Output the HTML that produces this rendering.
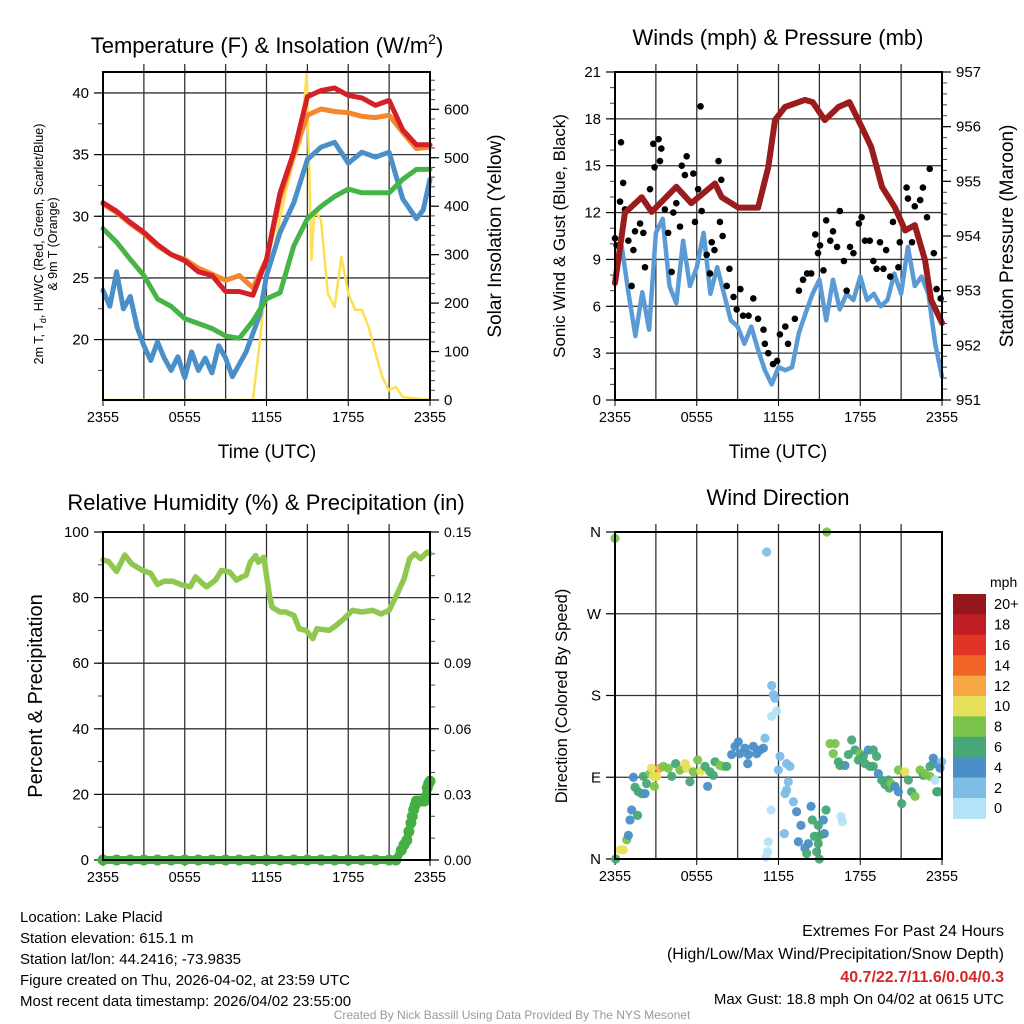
<!DOCTYPE html>
<html><head><meta charset="utf-8"><style>
html,body{margin:0;padding:0;background:#fff;}
svg{display:block;font-family:"Liberation Sans",sans-serif;}
</style></head><body>
<svg id="c" width="1024" height="1024" viewBox="0 0 1024 1024" xmlns="http://www.w3.org/2000/svg">
<rect width="1024" height="1024" fill="#fff"/>
<g id="p1"></g>
<g id="p2"></g>
<g id="p3"></g>
<g id="p4"></g>
<g id="cb"></g>
<g font-size="22" text-anchor="middle" fill="#000">
<text x="267" y="53">Temperature (F) &amp; Insolation (W/m<tspan font-size="14" dy="-9">2</tspan><tspan dy="9">)</tspan></text>
<text x="778" y="45">Winds (mph) &amp; Pressure (mb)</text>
<text x="266" y="510">Relative Humidity (%) &amp; Precipitation (in)</text>
<text x="778" y="505">Wind Direction</text>
</g>
<g font-size="19" text-anchor="middle">
<text x="267" y="458">Time (UTC)</text>
<text x="778" y="458">Time (UTC)</text>
<text transform="translate(43,244) rotate(-90)" font-size="12.5">2m T, T<tspan font-size="9" dy="3">d</tspan><tspan dy="-3">, HI/WC (Red, Green, Scarlet/Blue)</tspan></text>
<text transform="translate(57,244) rotate(-90)" font-size="12.5">&amp; 9m T (Orange)</text>
<text transform="translate(501,236) rotate(-90)">Solar Insolation (Yellow)</text>
<text transform="translate(565,236) rotate(-90)" font-size="17">Sonic Wind &amp; Gust (Blue, Black)</text>
<text transform="translate(1013,236) rotate(-90)">Station Pressure (Maroon)</text>
<text transform="translate(42,696) rotate(-90)" font-size="20">Percent &amp; Precipitation</text>
<text transform="translate(567,696) rotate(-90)" font-size="16.5">Direction (Colored By Speed)</text>
</g>
<g font-size="15" fill="#000">
<text x="20" y="922">Location: Lake Placid</text>
<text x="20" y="943">Station elevation: 615.1 m</text>
<text x="20" y="964">Station lat/lon: 44.2416; -73.9835</text>
<text x="20" y="985">Figure created on Thu, 2026-04-02, at 23:59 UTC</text>
<text x="20" y="1006">Most recent data timestamp: 2026/04/02 23:55:00</text>
</g>
<g font-size="16" text-anchor="end">
<text x="1004" y="936">Extremes For Past 24 Hours</text>
<text x="1004" y="959">(High/Low/Max Wind/Precipitation/Snow Depth)</text>
<text x="1004" y="982" fill="#d62728" font-weight="bold">40.7/22.7/11.6/0.04/0.3</text>
<text x="1004" y="1004" font-size="15">Max Gust: 18.8 mph On 04/02 at 0615 UTC</text>
</g>
<text x="512" y="1019" font-size="12" fill="#999" text-anchor="middle">Created By Nick Bassill Using Data Provided By The NYS Mesonet</text>
</svg>
<script>
// ---- Panel 1 data ----
const tempHours=[0,1,2,3,4,5,6,7,8,9,10,11,12,13,14,15,16,17,18,19,20,21,22,23,24];
const airTemp=[31.1,30.4,29.5,28.7,27.7,26.9,26.4,25.5,25.2,23.9,23.9,23.6,26.5,31.9,35.2,39.7,40.2,40.4,39.8,39.6,39.0,39.4,37.0,35.8,35.8];
const temp9m=[31.0,30.3,29.4,28.6,27.6,26.9,26.5,25.8,25.3,24.8,25.2,24.2,26.5,31.5,35.0,38.2,38.7,38.5,38.4,38.1,38.0,38.2,36.8,35.5,35.6];
const dewPoint=[29.0,27.9,26.5,25.2,23.3,22.7,21.7,21.3,20.9,20.3,20.1,21.5,23.3,23.8,27.6,29.8,30.8,31.6,32.2,31.9,31.9,31.9,33.0,33.8,33.8];
const wcHours=[0,0.5,1,1.5,2,2.5,3,3.5,4,4.5,5,5.5,6,6.5,7,7.5,8,8.5,9,9.5,10,10.5,11,11.5,12,13,14,15,16,17,18,19,20,21,22,23,23.5,24];
const windChill=[24.0,22.7,25.5,22.5,23.5,21.0,19.5,18.3,19.8,18.5,17.5,18.6,16.9,19.0,17.5,18.5,17.3,19.5,18.5,17.0,18.0,19.0,20.5,22.0,25.2,28.7,31.1,34.6,35.6,36.0,34.3,35.2,34.8,35.2,31.4,29.8,30.5,33.0];
const solarHours=[0,11,11.5,12,12.5,13,13.5,14,14.5,14.95,15.3,15.5,16,16.5,17,17.5,18,18.5,19,19.5,20,20.5,21,21.5,22,24];
const solar=[0,0,118,254,303,377,439,495,530,674,289,392,371,220,192,295,220,186,186,150,97,47,20,27,6,0];
// ---- Panel 2 data ----
const presHours=[0,0.73,1.96,2.69,4.5,5.6,7.34,7.83,9.05,10.5,11.25,11.74,12.48,13.94,14.5,15.4,16.4,17.2,18.1,18.8,19.6,20.55,21.3,22.0,22.75,23.2,24];
const pressure=[953.14,954.42,954.71,954.44,954.9,954.6,954.96,954.71,954.52,954.52,955.26,956.12,956.36,956.49,956.45,956.12,956.36,956.45,956.0,955.63,954.9,954.52,954.1,954.2,953.56,952.83,952.41];
const sonicHours=[0,0.5,1,1.5,2,2.5,3,3.5,4,4.5,5,5.5,6,6.5,7,7.5,8,8.5,9,9.5,10,10.5,11,11.5,12,12.5,13,13.5,14,14.5,15,15.5,16,16.5,17,17.5,18,18.5,19,19.5,20,20.5,21,21.5,22,22.5,23,23.5,24];
const sonic=[7.9,9.8,6.8,4.1,6.9,4.5,10.7,11.6,7.3,6.2,10.2,7.3,8.5,10.7,6.8,8.5,6.8,5.1,4.7,3.6,4.7,3.2,1.9,1.0,2.1,1.9,2.1,4.3,5.6,6.8,7.7,5.1,7.7,5.8,6.8,6.4,7.9,6.4,6.8,6.0,6.4,8.1,6.8,9.8,7.3,7.9,6.8,3.6,1.5];
const gustHours=[0,0.12,0.37,0.44,0.6,0.73,0.98,1.22,1.35,1.47,1.84,2.08,2.2,2.57,2.81,2.9,3.2,3.3,3.4,3.66,3.9,4.16,4.28,4.5,4.77,4.9,5.13,5.26,5.75,5.87,6.1,6.28,6.36,6.73,6.97,7.1,7.3,7.6,7.7,7.8,7.9,8.2,8.4,8.7,8.93,9.2,9.4,9.8,10.15,10.5,10.9,11.0,11.25,11.6,11.9,12.1,12.5,12.7,13.2,13.5,13.8,14.1,14.4,14.7,14.9,15.05,15.3,15.5,15.8,16.0,16.3,16.5,16.8,17.0,17.25,17.5,17.9,18.1,18.35,18.7,18.96,19.2,19.45,19.7,19.9,20.2,20.4,20.8,20.9,21.4,21.5,21.8,22.0,22.4,22.6,22.9,23.1,23.4,23.6,23.9];
const gusts=[10.35,9.9,12.7,16.5,13.9,12.2,10.2,7.3,9.6,10.8,11.3,10.7,8.5,13.5,16.4,14.9,16.7,15.3,16.1,12.2,10.7,8.2,12.0,12.6,11.1,15.0,14.4,15.6,14.5,11.4,13.5,18.8,12.1,9.3,8.1,10.1,9.6,15.3,11.4,14.1,10.5,7.3,8.4,6.6,5.8,7.1,5.4,5.4,6.5,5.2,4.5,3.6,3.0,2.3,2.5,4.2,4.7,3.6,5.2,7.0,7.7,8.1,8.1,10.6,9.4,9.9,8.3,11.5,10.2,10.8,9.8,12.1,8.9,7.0,9.8,9.4,11.3,11.7,10.2,10.2,8.9,8.4,10.1,8.4,9.6,7.9,11.4,8.5,10.1,13.6,12.9,10.1,12.4,12.8,13.6,11.7,14.8,9.4,7.1,6.5];
// ---- Panel 3 data ----
const rhHours=[0,0.4,1.0,1.6,2.1,2.9,3.5,4.0,4.5,5.1,5.8,6.4,6.8,7.3,7.6,8.25,8.7,9.3,9.8,10.2,10.5,10.8,11.2,11.4,11.8,12.2,12.4,13.0,13.4,14.0,14.4,14.9,15.4,15.7,16.6,17.1,17.7,18.3,19.0,19.8,20.4,21.0,21.6,22.1,22.5,22.9,23.3,23.8,24];
const relHum=[91.5,91,88,93,90.3,88.3,87.4,84,85,85,83.8,83.3,86.3,84.3,83.3,85.3,88.3,87.8,85.3,86.3,86.8,90.8,92.8,90.8,92.3,81.2,77.1,75.6,75.6,74.6,70.5,70.0,67.5,70.5,70.0,71.5,73.6,76.1,75.6,76.1,75.0,76.1,81.2,85.8,91.9,93.4,91.9,93.9,93.4];
const precipHours=[0,1,2,3,4,5,6,7,8,9,10,11,12,13,14,15,16,17,18,19,20,21,21.5,21.9,22.1,22.3,22.45,22.6,22.7,22.8,22.9,23.0,23.2,23.4,23.6,23.8,23.9,24];
const precip=[0,0,0,0,0,0,0,0,0,0,0,0,0,0,0,0,0,0,0,0,0,0,0,0.0045,0.007,0.009,0.013,0.017,0.02,0.023,0.025,0.027,0.027,0.027,0.027,0.033,0.035,0.036];
// ---- Panel 4 data ----
const dirHours=[0,0.05,0.37,0.61,0.86,0.98,1.10,1.22,1.66,1.35,1.47,1.71,1.96,2.20,2.08,2.32,2.57,2.81,2.89,2.69,3.06,3.30,3.55,3.91,4.16,4.45,4.77,5.14,5.26,5.50,5.75,6.07,6.31,6.61,6.80,6.97,7.22,7.34,7.71,7.95,8.20,8.56,8.81,9.05,9.17,9.54,9.79,10.15,10.40,10.64,10.89,9.74,11.01,11.13,11.50,11.74,11.87,11.62,11.50,12.11,11.99,12.60,12.84,12.72,12.60,13.09,13.33,12.48,12.43,11.45,11.25,11.20,11.08,13.46,13.94,14.19,14.39,14.48,14.63,14.92,14.80,14.07,13.65,15.29,15.36,15.05,14.92,15.0,15.54,16.15,15.78,16.02,16.39,16.88,16.51,17.13,17.37,17.61,17.98,18.23,18.59,18.96,19.20,17.86,18.35,18.72,18.96,19.33,19.57,19.82,20.13,20.06,20.26,20.55,20.80,21.04,20.80,21.28,21.53,21.77,22.02,22.39,22.63,22.75,23.12,23.36,23.12,23.36,23.98,23.85,23.49,23.61,23.73,15.49,16.59,16.69];
const dirDeg=[353,0,10,10,21,26,43,54,48,90,79,74,72,72,91,83,94,91,80,100,91,100,102,100,91,105,98,105,100,85,96,109,97,102,80,96,92,107,103,102,102,115,124,129,116,122,115,124,116,120,122,105,133,338,191,177,163,181,157,113,98,105,102,85,76,63,52,72,28,54,19,8,2,19,12,17,58,43,25,17,8,6,37,43,28,26,37,0,360,127,127,116,107,103,103,115,131,120,116,113,120,120,113,109,105,102,102,94,87,82,78,87,83,80,74,61,98,96,87,74,69,98,92,94,91,105,102,111,107,100,87,74,74,54,47,41,26,78,78,87];
const dirSpeed=[8,6,10,10,8,4,4,4,6,4,6,6,6,4,6,6,8,10,8,10,10,12,8,8,6,6,8,10,10,6,8,8,10,6,4,6,6,6,8,8,6,4,4,4,4,4,4,4,4,4,4,4,2,2,2,2,0,2,0,2,2,2,2,2,2,2,4,2,2,0,0,0,0,4,4,4,4,6,6,6,6,6,4,4,4,6,6,6,8,8,8,8,6,4,6,6,6,6,8,6,4,6,6,6,6,6,6,4,6,6,6,6,8,4,4,6,8,10,6,6,8,8,6,8,8,4,6,4,2,4,0,6,6,6];
const speedBins=[0,2,4,6,8,10,12,14,16,18,20];
const speedColors=["#b3e3f7","#7dbde6","#4a8fc8","#47a875","#7ac44c","#e6e058","#f7a844","#f06428","#e03526","#bf1e24","#94171b"];
const speedLabels=["0","2","4","6","8","10","12","14","16","18","20+"];

const NS="http://www.w3.org/2000/svg";
function mk(parent,tag,attrs){const e=document.createElementNS(NS,tag);for(const k in attrs)e.setAttribute(k,attrs[k]);parent.appendChild(e);return e;}
function lin(d0,d1,r0,r1){return v=>r0+(v-d0)*(r1-r0)/(d1-d0);}

function frame(g,L,R,T,B){
  const xs=lin(0,24,L,R);
  for(let h=3;h<24;h+=3){const l=mk(g,'line',{x1:xs(h),x2:xs(h),y1:T-8,y2:B,stroke:'#333','stroke-width':1.3});
    }
  const xl=["2355","0555","1155","1755","2355"];
  for(let i=0;i<5;i++){const t=mk(g,'text',{x:xs(i*6),y:B+22,'font-size':14.5,'text-anchor':'middle'});t.textContent=xl[i];
    
    mk(g,'line',{x1:xs(i*6),x2:xs(i*6),y1:B,y2:B+6,stroke:'#000'});}
  return xs;
}
function yaxis(g,L,R,T,B,d0,d1,ticks,labels,side,minorStep,grid,fs){
  const ys=lin(d0,d1,B,T);
  const x=side==='l'?L:R, dir=side==='l'?-1:1;
  if(minorStep){for(let v=Math.ceil(d0/minorStep)*minorStep;v<=d1+1e-9;v+=minorStep){mk(g,'line',{x1:x,x2:x+dir*5,y1:ys(v),y2:ys(v),stroke:'#444','stroke-width':1});}}
  ticks.forEach((v,i)=>{
    if(grid){const gl=mk(g,'line',{x1:L,x2:R,y1:ys(v),y2:ys(v),stroke:'#333','stroke-width':1.3});
      }
    mk(g,'line',{x1:x,x2:x+dir*9,y1:ys(v),y2:ys(v),stroke:'#000','stroke-width':1.2});
    const t=mk(g,'text',{x:x+dir*14,y:ys(v)+5,'font-size':fs||15,'text-anchor':side==='l'?'end':'start'});t.textContent=labels[i];
    
  });
  return ys;
}
function border(g,L,R,T,B){const r=mk(g,'rect',{x:L,y:T,width:R-L,height:B-T,fill:'none',stroke:'#000','stroke-width':2});
  }
function line(g,xs,ys,hx,vy,color,w,name){
  const d=hx.map((h,i)=>(i?'L':'M')+xs(h).toFixed(1)+','+ys(vy[i]).toFixed(1)).join('');
  const p=mk(g,'path',{d:d,fill:'none',stroke:color,'stroke-width':w,'stroke-linejoin':'round','stroke-linecap':'round'});
  return p;
}

// Panel 1
(function(){const g=document.getElementById('p1');const L=103,R=430,T=72,B=400;
  const xs=frame(g,L,R,T,B);
  const yT=yaxis(g,L,R,T,B,15.1,41.7,[20,25,30,35,40],["20","25","30","35","40"],'l',2.5,true);
  const yS=yaxis(g,L,R,T,B,0,677,[0,100,200,300,400,500,600],["0","100","200","300","400","500","600"],'r',20,false);
  line(g,xs,yS,solarHours,solar,'#fde050',2.5,'solar-line');
  line(g,xs,yT,wcHours,windChill,'#4a8fc8',5,'windchill-line');
  line(g,xs,yT,tempHours,dewPoint,'#47b447',5,'dewpoint-line');
  line(g,xs,yT,tempHours,temp9m,'#f4862e',5,'temp-9m-line');
  line(g,xs,yT,tempHours,airTemp,'#d62027',5,'temp-2m-line');
  border(g,L,R,T,B);})();

// Panel 2
(function(){const g=document.getElementById('p2');const L=615,R=942,T=72,B=400;
  const xs=frame(g,L,R,T,B);
  const yW=yaxis(g,L,R,T,B,0,21,[0,3,6,9,12,15,18,21],["0","3","6","9","12","15","18","21"],'l',1,true);
  const yP=yaxis(g,L,R,T,B,951,957,[951,952,953,954,955,956,957],["951","952","953","954","955","956","957"],'r',0.2,false);
  line(g,xs,yW,sonicHours,sonic,'#5b9bd5',4.5,'sonic-wind-line');
  gustHours.forEach((h,i)=>{const c=mk(g,'circle',{cx:xs(h),cy:yW(gusts[i]),r:3.3,fill:'#000'});
    });
  line(g,xs,yP,presHours,pressure,'#9b1c1c',6,'pressure-line');
  border(g,L,R,T,B);})();

// Panel 3
(function(){const g=document.getElementById('p3');const L=103,R=430,T=532,B=860;
  const xs=frame(g,L,R,T,B);
  const yH=yaxis(g,L,R,T,B,0,100,[0,20,40,60,80,100],["0","20","40","60","80","100"],'l',10,true);
  const yPr=yaxis(g,L,R,T,B,0,0.15,[0,0.03,0.06,0.09,0.12,0.15],["0.00","0.03","0.06","0.09","0.12","0.15"],'r',0.01,false,14);
  line(g,xs,yH,rhHours,relHum,'#8fc74f',5.5,'humidity-line');
  line(g,xs,yPr,precipHours,precip,'#44b044',8,'precip-line');
  precipHours.forEach((h,i)=>{const c=mk(g,'circle',{cx:xs(h),cy:yPr(precip[i]),r:5.5,fill:'#44b044'});
    });
  border(g,L,R,T,B);})();

// Panel 4
(function(){const g=document.getElementById('p4');const L=615,R=942,T=532,B=859;
  const xs=frame(g,L,R,T,B);
  const yD=yaxis(g,L,R,T,B,0,360,[0,90,180,270,360],["N","E","S","W","N"],'l',0,true);
  dirHours.forEach((h,i)=>{let k=0;for(let j=0;j<speedBins.length;j++)if(dirSpeed[i]>=speedBins[j])k=j;
    const c=mk(g,'circle',{cx:xs(h),cy:yD(dirDeg[i]),r:4.6,fill:speedColors[k],'fill-opacity':0.95});
    });
  border(g,L,R,T,B);})();

// Colorbar
(function(){const g=document.getElementById('cb');const top=594,h=20.4,n=speedColors.length;
  const m=mk(g,'text',{x:990,y:587,'font-size':14});m.textContent='mph';
  
  for(let i=0;i<n;i++){const idx=n-1-i;
    const r=mk(g,'rect',{x:953,y:top+i*h,width:33,height:h+0.5,fill:speedColors[idx]});
    
    const t=mk(g,'text',{x:994,y:top+i*h+h/2+5,'font-size':14.5});t.textContent=speedLabels[idx];
    }
})();
</script>
</body></html>
